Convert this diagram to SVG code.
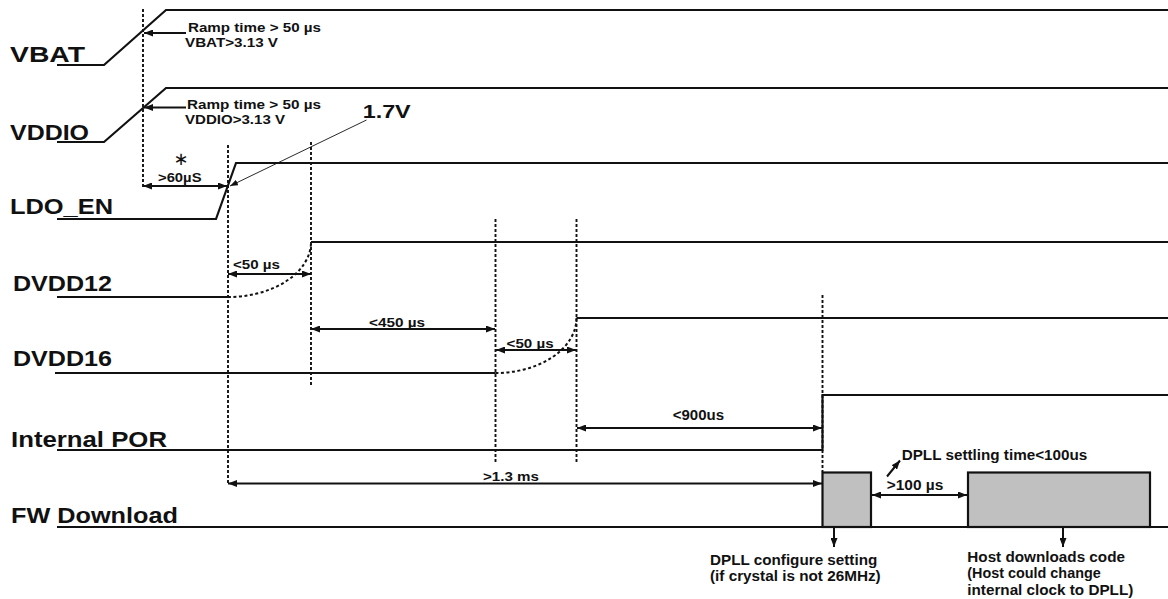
<svg xmlns="http://www.w3.org/2000/svg" width="1168" height="599" viewBox="0 0 1168 599">
<defs>
<marker id="ah" viewBox="0 0 9 7" refX="9" refY="3.5" markerWidth="9" markerHeight="7" markerUnits="userSpaceOnUse" orient="auto-start-reverse"><path d="M0,0 L9,3.5 L0,7 z" fill="#111"/></marker>
<marker id="ahs" viewBox="0 0 8 6" refX="8" refY="3" markerWidth="8" markerHeight="6" markerUnits="userSpaceOnUse" orient="auto-start-reverse"><path d="M0,0 L8,3 L0,6 z" fill="#111"/></marker>
<style>
.sig{fill:none;stroke:#111;stroke-width:2.2}
.dot{fill:none;stroke:#111;stroke-width:2;stroke-dasharray:3,2.5}
.vl{fill:none;stroke:#111;stroke-width:1.9;stroke-dasharray:3,2}
.dim{fill:none;stroke:#111;stroke-width:2;marker-start:url(#ah);marker-end:url(#ah)}
.one{fill:none;stroke:#111;stroke-width:2;marker-end:url(#ah)}
.thin{fill:none;stroke:#111;stroke-width:0.9;marker-end:url(#ahs)}
.box{fill:#c0c0c0;stroke:#111;stroke-width:2.2}
text{font-family:"Liberation Sans",Arial,sans-serif;font-weight:bold;fill:#111}
.lbl{font-size:22.5px}
.ann{font-size:13.5px}
.mid{font-size:14.5px}
.big{font-size:15.5px}
</style>
</defs>

<g id="guides">
<line class="vl" x1="143" y1="9" x2="143" y2="187"/>
<line class="vl" x1="228" y1="145" x2="228" y2="485"/>
<line class="vl" x1="311" y1="142" x2="311" y2="385"/>
<line class="vl" x1="495.5" y1="219" x2="495.5" y2="462"/>
<line class="vl" x1="576.5" y1="219" x2="576.5" y2="462"/>
<line class="vl" x1="822.5" y1="295" x2="822.5" y2="472"/>
</g>

<g id="vbat">
<text class="lbl" x="10" y="62" textLength="75" lengthAdjust="spacingAndGlyphs">VBAT</text>
<path class="sig" d="M57,65 L104,65 L166,10 L1168,10"/>
<text class="ann" x="188" y="31.5" textLength="133" lengthAdjust="spacingAndGlyphs">Ramp time &gt; 50 µs</text>
<text class="ann" x="185" y="47" textLength="93" lengthAdjust="spacingAndGlyphs">VBAT&gt;3.13 V</text>
</g>

<g id="vddio">
<text class="lbl" x="10" y="139.5" textLength="79" lengthAdjust="spacingAndGlyphs">VDDIO</text>
<path class="sig" d="M57,142 L104,142 L166,88 L1168,88"/>
<text class="ann" x="187" y="108.5" textLength="134" lengthAdjust="spacingAndGlyphs">Ramp time &gt; 50 µs</text>
<text class="ann" x="185" y="124" textLength="100" lengthAdjust="spacingAndGlyphs">VDDIO&gt;3.13 V</text>
<text x="362.7" y="118" style="font-size:17.5px" textLength="48" lengthAdjust="spacingAndGlyphs">1.7V</text>
</g>

<g id="ldo_en">
<text class="lbl" x="10" y="213.5" textLength="103" lengthAdjust="spacingAndGlyphs">LDO_EN</text>
<path class="sig" d="M57,219 L216,219 L236,163 L1168,163"/>
<text x="181" y="164.5" text-anchor="middle" style="font-family:'DejaVu Sans',sans-serif;font-weight:normal;font-size:18px">∗</text>
<text class="ann" x="158" y="182" textLength="43.5" lengthAdjust="spacingAndGlyphs">&gt;60µS</text>
</g>

<g id="dvdd12">
<text class="lbl" x="13" y="291" textLength="99" lengthAdjust="spacingAndGlyphs">DVDD12</text>
<path class="sig" d="M57,297 L228,297"/>
<path class="sig" d="M311,242 L1168,242"/>
<path class="dot" d="M228,297 A83,55 0 0 0 311,242"/>
<text class="ann" x="233" y="269" textLength="47" lengthAdjust="spacingAndGlyphs">&lt;50 µs</text>
</g>

<g id="dvdd16">
<text class="lbl" x="13" y="366" textLength="99" lengthAdjust="spacingAndGlyphs">DVDD16</text>
<path class="sig" d="M55,373 L495.5,373"/>
<path class="sig" d="M576.5,318 L1168,318"/>
<path class="dot" d="M495.5,373 A81,55 0 0 0 576.5,318"/>
<text class="ann" x="369" y="326.5" textLength="56" lengthAdjust="spacingAndGlyphs">&lt;450 µs</text>
<text class="ann" x="506.6" y="348" textLength="47" lengthAdjust="spacingAndGlyphs">&lt;50 µs</text>
</g>

<g id="internal_por">
<text class="lbl" x="11" y="446.5" textLength="156" lengthAdjust="spacingAndGlyphs">Internal POR</text>
<path class="sig" d="M57,450 L822.5,450 L822.5,395 L1168,395"/>
<text class="mid" x="672.7" y="420" textLength="51.3" lengthAdjust="spacingAndGlyphs">&lt;900us</text>
<text class="ann" x="483" y="481" textLength="56" lengthAdjust="spacingAndGlyphs">&gt;1.3 ms</text>
</g>

<g id="fw_download">
<text class="lbl" x="11" y="522.5" textLength="167" lengthAdjust="spacingAndGlyphs">FW Download</text>
<path class="sig" d="M57,527 L1168,527"/>
<rect class="box" x="822.5" y="472.5" width="48.5" height="54.5"/>
<rect class="box" x="968" y="472.5" width="182" height="54.5"/>
<text class="mid" x="901.7" y="460" textLength="185.6" lengthAdjust="spacingAndGlyphs">DPLL settling time&lt;100us</text>
<text class="mid" x="886.7" y="490" textLength="56.6" lengthAdjust="spacingAndGlyphs">&gt;100 µs</text>
<text class="big" x="710" y="565" textLength="167.3" lengthAdjust="spacingAndGlyphs">DPLL configure setting</text>
<text class="big" x="710" y="580.5" textLength="170.7" lengthAdjust="spacingAndGlyphs">(if crystal is not 26MHz)</text>
<text class="big" x="967.3" y="561.7" textLength="157.7" lengthAdjust="spacingAndGlyphs">Host downloads code</text>
<text class="big" x="967.3" y="578.3" textLength="133.4" lengthAdjust="spacingAndGlyphs">(Host could change</text>
<text class="big" x="967.3" y="595" textLength="166" lengthAdjust="spacingAndGlyphs">internal clock to DPLL)</text>
</g>

<g id="connectors">
<line class="one" x1="186" y1="33" x2="144" y2="33"/>
<line class="one" x1="186" y1="107.5" x2="144" y2="107.5"/>
<line class="thin" x1="366.5" y1="120" x2="230" y2="186"/>
<line class="dim" x1="143" y1="186" x2="227" y2="186"/>
<line class="dim" x1="228" y1="274" x2="311" y2="274"/>
<line class="dim" x1="311" y1="329" x2="495" y2="329"/>
<line class="dim" x1="496" y1="350" x2="576" y2="350"/>
<line class="dim" x1="577" y1="428" x2="822" y2="428"/>
<line class="dim" x1="228" y1="483.5" x2="822" y2="483.5"/>
<line class="dim" x1="872" y1="495" x2="967" y2="495"/>
<line class="one" x1="887" y1="476.5" x2="900" y2="460.5"/>
<line class="one" x1="834" y1="527" x2="834" y2="547"/>
<line class="one" x1="1063" y1="527" x2="1063" y2="547"/>
</g>
</svg>
